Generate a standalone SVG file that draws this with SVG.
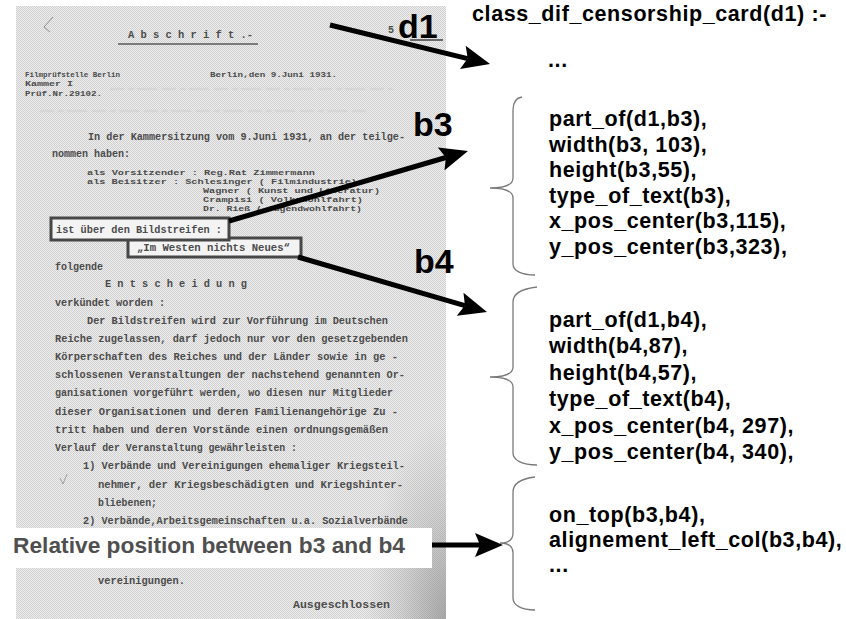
<svg xmlns="http://www.w3.org/2000/svg" width="846" height="619" viewBox="0 0 846 619">
  <defs>
    <!-- fine 2x2 dither used for the scanned sheet -->
    <pattern id="scan" width="2" height="2" patternUnits="userSpaceOnUse">
      <rect width="2" height="2" fill="#eeeeee"/>
      <rect width="1" height="1" fill="#d0d0d0"/>
      <rect x="1" y="1" width="1" height="1" fill="#d0d0d0"/>
    </pattern>
    <radialGradient id="edgeShade" cx="1" cy="1" r="1" fx="1" fy="1">
      <stop offset="0" stop-color="#8c8c8c" stop-opacity="0.7"/>
      <stop offset="0.55" stop-color="#8c8c8c" stop-opacity="0.25"/>
      <stop offset="1" stop-color="#8c8c8c" stop-opacity="0"/>
    </radialGradient>
    <marker id="head" viewBox="0 0 28 24" markerWidth="28" markerHeight="24" refX="5" refY="12" orient="auto" markerUnits="userSpaceOnUse">
      <path d="M0,0 L28,12 L0,24 L5,12 z" fill="#000"/>
    </marker>
  </defs>
  <style>
    .type { font-family: "Liberation Mono", "DejaVu Sans Mono", monospace; font-size: 10px; font-weight: bold; fill: #4c4c4c; }
    .tight { font-size: 8px; }
    .fact { font-family: "Liberation Sans", Arial, sans-serif; font-size: 21.5px; font-weight: bold; letter-spacing: 0.6px; fill: #000; }
    .tag { font-family: "Liberation Sans", Arial, sans-serif; font-size: 34px; font-weight: bold; fill: #000; }
    .brace { fill: none; stroke: #7a7a7a; stroke-width: 1.3; }
    .arrow { fill: none; stroke: #000; stroke-width: 5; marker-end: url(#head); }
    .box { fill: #f3f3f3; stroke: #474747; stroke-width: 3; }
    .faint { fill: none; stroke: #d6d6d6; stroke-width: 2.5; stroke-dasharray: 14 4 6 3 20 5; }
  </style>

  <rect width="846" height="619" fill="#ffffff"/>

  <!-- scanned censorship card -->
  <g id="document">
    <rect x="16" y="6" width="430" height="613" fill="url(#scan)"/>
    <rect x="366" y="420" width="80" height="199" fill="url(#edgeShade)"/>
    <!-- pencil marks -->
    <path d="M53,17 L44,27 L50,32" fill="none" stroke="#8a8a8a" stroke-width="1"/>
    <path d="M60,478 L63,484 L67,474" fill="none" stroke="#a0a0a0" stroke-width="1"/>
    <!-- show-through from the back of the sheet -->
    <line x1="110" y1="89" x2="393" y2="89" class="faint"/>
    <line x1="40" y1="111" x2="367" y2="111" class="faint"/>

    <text class="type" x="128" y="38" textLength="125" lengthAdjust="spacingAndGlyphs">A b s c h r i f t .-</text>
    <line x1="118" y1="44" x2="258" y2="44" stroke="#5a5a5a" stroke-width="1.5"/>
    <text class="type" x="388" y="33" font-size="8">5</text>
    <line x1="410" y1="40" x2="443" y2="40" stroke="#6a6a6a" stroke-width="2"/>

    <text class="type tight" x="25" y="77" textLength="95" lengthAdjust="spacingAndGlyphs">Filmprüfstelle Berlin</text>
    <text class="type tight" x="210" y="77" textLength="127" lengthAdjust="spacingAndGlyphs">Berlin,den 9.Juni 1931.</text>
    <text class="type tight" x="25" y="86" textLength="48" lengthAdjust="spacingAndGlyphs">Kammer I</text>
    <text class="type tight" x="25" y="96" textLength="77" lengthAdjust="spacingAndGlyphs">Prüf.Nr.29102.</text>

    <text class="type" x="88" y="140" textLength="317" lengthAdjust="spacingAndGlyphs">In der Kammersitzung vom 9.Juni 1931, an der teilge-</text>
    <text class="type" x="52" y="157" textLength="78" lengthAdjust="spacingAndGlyphs">nommen haben:</text>
    <text class="type tight" x="87" y="175" textLength="228" lengthAdjust="spacingAndGlyphs">als Vorsitzender : Reg.Rat Zimmermann</text>
    <text class="type tight" x="87" y="184" textLength="270" lengthAdjust="spacingAndGlyphs">als Beisitzer    : Schlesinger ( Filmindustrie)</text>
    <text class="type tight" x="203" y="193" textLength="177" lengthAdjust="spacingAndGlyphs">Wagner ( Kunst und Literatur)</text>
    <text class="type tight" x="203" y="202" textLength="160" lengthAdjust="spacingAndGlyphs">Crampisi ( Volkswohlfahrt)</text>
    <text class="type tight" x="203" y="211" textLength="159" lengthAdjust="spacingAndGlyphs">Dr. Rieß  ( Jugendwohlfahrt)</text>

    <!-- block b4 -->
    <rect class="box" x="128" y="238" width="173" height="19"/>
    <text class="type" x="137" y="251" textLength="153" lengthAdjust="spacingAndGlyphs">„Im Westen nichts Neues“</text>
    <!-- block b3 -->
    <rect class="box" x="51" y="218" width="178" height="22"/>
    <text class="type" x="56" y="233" textLength="166" lengthAdjust="spacingAndGlyphs">ist über den Bildstreifen :</text>

    <text class="type" x="55" y="270" textLength="48" lengthAdjust="spacingAndGlyphs">folgende</text>
    <text class="type" x="105" y="287" textLength="142" lengthAdjust="spacingAndGlyphs">E n t s c h e i d u n g</text>
    <text class="type" x="55" y="306" textLength="110" lengthAdjust="spacingAndGlyphs">verkündet worden :</text>

    <text class="type" x="87" y="324" textLength="301" lengthAdjust="spacingAndGlyphs">Der Bildstreifen wird zur Vorführung im Deutschen</text>
    <text class="type" x="55" y="342" textLength="353" lengthAdjust="spacingAndGlyphs">Reiche zugelassen, darf jedoch nur vor den gesetzgebenden</text>
    <text class="type" x="55" y="360" textLength="343" lengthAdjust="spacingAndGlyphs">Körperschaften des Reiches und der Länder sowie in ge -</text>
    <text class="type" x="55" y="378" textLength="350" lengthAdjust="spacingAndGlyphs">schlossenen Veranstaltungen der nachstehend genannten Or-</text>
    <text class="type" x="55" y="396" textLength="338" lengthAdjust="spacingAndGlyphs">ganisationen vorgeführt werden, wo diesen nur Mitglieder</text>
    <text class="type" x="55" y="415" textLength="343" lengthAdjust="spacingAndGlyphs">dieser Organisationen und deren Familienangehörige Zu -</text>
    <text class="type" x="55" y="433" textLength="333" lengthAdjust="spacingAndGlyphs">tritt haben und deren Vorstände einen ordnungsgemäßen</text>
    <text class="type" x="55" y="451" textLength="242" lengthAdjust="spacingAndGlyphs">Verlauf der Veranstaltung gewährleisten :</text>
    <text class="type" x="83" y="469" textLength="322" lengthAdjust="spacingAndGlyphs">1) Verbände und Vereinigungen ehemaliger Kriegsteil-</text>
    <text class="type" x="98" y="488" textLength="305" lengthAdjust="spacingAndGlyphs">nehmer, der Kriegsbeschädigten und Kriegshinter-</text>
    <text class="type" x="98" y="506" textLength="59" lengthAdjust="spacingAndGlyphs">bliebenen;</text>
    <text class="type" x="83" y="524" textLength="325" lengthAdjust="spacingAndGlyphs">2) Verbände,Arbeitsgemeinschaften u.a. Sozialverbände</text>
    <text class="type" x="98" y="584" textLength="87" lengthAdjust="spacingAndGlyphs">vereinigungen.</text>
    <text class="type" x="293" y="608" textLength="97" lengthAdjust="spacingAndGlyphs" fill="#333">Ausgeschlossen</text>
  </g>

  <!-- labels placed on the sheet -->
  <g id="label-d1"><text class="tag" x="398" y="38">d1</text></g>
  <g id="label-b3"><text class="tag" x="413" y="136">b3</text></g>
  <g id="label-b4"><text class="tag" x="414" y="273">b4</text></g>
  <g id="label-relative">
    <rect x="0" y="528" width="432" height="40" fill="#ffffff"/>
    <text x="13" y="553" font-family="'Liberation Sans', Arial, sans-serif" font-size="22" font-weight="bold" fill="#4f4f4f" textLength="392" lengthAdjust="spacingAndGlyphs">Relative position between b3 and b4</text>
  </g>

  <!-- rule head -->
  <g id="clause-head">
    <text class="fact" x="472" y="21">class_dif_censorship_card(d1) :-</text>
    <text class="fact" x="548" y="67">...</text>
  </g>

  <!-- facts about block b3 -->
  <g id="facts-b3">
    <path class="brace" d="M522,97 C515,98 513,103 513,110 L513,178 C513,185 504,188 490,188 C504,188 513,191 513,198 L513,264 C513,271 522,275 535,275"/>
    <text class="fact" x="549" y="126">part_of(d1,b3),</text>
    <text class="fact" x="549" y="152">width(b3, 103),</text>
    <text class="fact" x="549" y="177">height(b3,55),</text>
    <text class="fact" x="549" y="203">type_of_text(b3),</text>
    <text class="fact" x="549" y="228">x_pos_center(b3,115),</text>
    <text class="fact" x="549" y="254">y_pos_center(b3,323),</text>
  </g>

  <!-- facts about block b4 -->
  <g id="facts-b4">
    <path class="brace" d="M537,287 C520,289 513,294 513,302 L513,367 C513,374 504,377 490,377 C504,377 513,380 513,387 L513,453 C513,460 522,465 537,465"/>
    <text class="fact" x="549" y="327">part_of(d1,b4),</text>
    <text class="fact" x="549" y="353">width(b4,87),</text>
    <text class="fact" x="549" y="380">height(b4,57),</text>
    <text class="fact" x="549" y="406">type_of_text(b4),</text>
    <text class="fact" x="549" y="433">x_pos_center(b4, 297),</text>
    <text class="fact" x="549" y="459">y_pos_center(b4, 340),</text>
  </g>

  <!-- relations between b3 and b4 -->
  <g id="facts-relative">
    <path class="brace" d="M535,477 C519,479 513,484 513,492 L513,533 C513,540 508,543 500,543 C508,543 513,546 513,553 L513,598 C513,605 521,610 535,610"/>
    <text class="fact" x="549" y="522">on_top(b3,b4),</text>
    <text class="fact" x="549" y="547">alignement_left_col(b3,b4),</text>
    <text class="fact" x="549" y="572" font-size="20">...</text>
  </g>

  <g id="connectors">
    <line class="arrow" x1="330" y1="25" x2="467.7" y2="58.6"/>
    <line class="arrow" x1="229" y1="221" x2="445.9" y2="157.5"/>
    <line class="arrow" x1="298" y1="257" x2="464.9" y2="305.6"/>
    <line class="arrow" x1="432" y1="545" x2="480" y2="545"/>
  </g>
</svg>
